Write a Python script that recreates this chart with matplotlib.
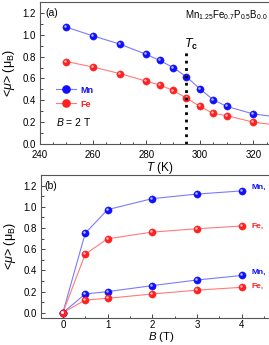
import matplotlib
matplotlib.use("Agg")
import matplotlib.pyplot as plt
from matplotlib.ticker import MultipleLocator
from matplotlib.lines import Line2D
import matplotlib.transforms as mtransforms

plt.rcParams['font.family'] = ['Liberation Sans', 'DejaVu Sans']
plt.rcParams['mathtext.fontset'] = 'custom'
plt.rcParams['mathtext.rm'] = 'Liberation Sans'
plt.rcParams['mathtext.it'] = 'Liberation Sans:italic'
plt.rcParams['mathtext.bf'] = 'Liberation Sans:bold'

# panel (a): moment vs temperature at B = 2 T
temp = [250, 260, 270, 280, 285, 290, 295, 300, 305, 310, 320, 330]
mn_temp = [1.07, 0.99, 0.915, 0.82, 0.765, 0.70, 0.615, 0.505, 0.405, 0.345, 0.275, 0.245]
fe_temp = [0.755, 0.705, 0.645, 0.575, 0.54, 0.49, 0.42, 0.345, 0.28, 0.26, 0.20, 0.17]
tc = 295

# panel (b): moment vs field
field = [0, 0.5, 1, 2, 3, 4]
mn_low_t = [0, 0.75, 0.973, 1.077, 1.12, 1.15]
fe_low_t = [0, 0.553, 0.698, 0.761, 0.793, 0.818]
mn_high_t = [0, 0.177, 0.199, 0.256, 0.309, 0.352]
fe_high_t = [0, 0.12, 0.136, 0.177, 0.213, 0.24]

BLUE = '#1010ff'
RED = '#ff2020'
BLUE_LINE = '#7a7aff'
RED_LINE = '#ff7a7a'


def ball_plot(ax, x, y, line_color, color, ms=5.2):
    ax.plot(x, y, '-', color=line_color, lw=0.8, zorder=2)
    ax.plot(x, y, 'o', ms=ms, mfc=color, mec=color, mew=0.3, zorder=3)
    hl = mtransforms.offset_copy(ax.transData, fig=ax.figure, x=-0.7, y=0.7, units='points')
    ax.plot(x, y, 'o', ms=ms * 0.35, mfc='white', mec='none', alpha=0.7,
            transform=hl, zorder=4)


def style_axis(ax):
    for s in ax.spines.values():
        s.set_color('#555555')
        s.set_linewidth(0.8)
    ax.tick_params(which='both', direction='in', labelsize=7, color='#444444', width=0.7)
    ax.tick_params(which='major', length=3, pad=2.5)
    ax.tick_params(which='minor', length=1.8)
    ax.yaxis.set_major_locator(MultipleLocator(0.2))
    ax.yaxis.set_minor_locator(MultipleLocator(0.1))
    ax.yaxis.set_major_formatter(lambda v, p: f'{v:.1f}')
    ax.set_ylabel(r'<$\mu$> (μ$_\mathregular{B}$)', fontsize=9)
    ax.yaxis.set_label_coords(-0.092, 0.5)


fig = plt.figure(figsize=(2.69, 3.45), dpi=100)
W, H = 269.0, 345.0

# top panel
ax1 = fig.add_axes([39.5 / W, 1 - 144 / H, (280 - 39.5) / W, (144 - 2) / H])
ball_plot(ax1, temp, mn_temp, BLUE_LINE, BLUE)
ball_plot(ax1, temp, fe_temp, RED_LINE, RED)
ax1.plot([tc, tc], [0, 0.85], ':', color='black', lw=2.0, zorder=5)
ax1.text(tc - 1.0, 0.88, r'$\mathbf{\mathit{T}}_\mathregular{c}$', fontsize=9, fontweight='bold')
ax1.set_xlim(240, 330)
ax1.set_ylim(0, 1.3)
ax1.xaxis.set_major_locator(MultipleLocator(20))
ax1.xaxis.set_minor_locator(MultipleLocator(5))
style_axis(ax1)
ax1.tick_params(axis='x', pad=4)
ax1.set_xlabel(r'$\mathit{T}$ (K)', fontsize=8.5, labelpad=0)
ax1.text(242.2, 1.2, '(a)', fontsize=7.5, va='center')
ax1.text(0.605, 0.905, r'Mn$_{1.25}$Fe$_{0.7}$P$_{0.5}$B$_{0.0}$', transform=ax1.transAxes,
         fontsize=7, va='center')
ax1.text(246, 0.2, r'$\mathit{B}$ = 2 T', fontsize=7.5, va='center')

handles = [Line2D([], [], color=BLUE_LINE, lw=0.8, marker='o', ms=5.2, mfc=BLUE, mec=BLUE),
           Line2D([], [], color=RED_LINE, lw=0.8, marker='o', ms=5.2, mfc=RED, mec=RED)]
leg = ax1.legend(handles, ['Mn', 'Fe'], loc='center left', bbox_to_anchor=(0.035, 0.33),
                 frameon=False, fontsize=6.5, handlelength=2.2, handletextpad=0.5,
                 labelspacing=0.55)
for t, c in zip(leg.get_texts(), [BLUE, RED]):
    t.set_color(c)
    t.set_fontweight('bold')

# bottom panel
ax2 = fig.add_axes([40.5 / W, 1 - 317.5 / H, (282 - 40.5) / W, (317.5 - 175) / H])
ball_plot(ax2, field, mn_low_t, BLUE_LINE, BLUE)
ball_plot(ax2, field, fe_low_t, RED_LINE, RED)
ball_plot(ax2, field, mn_high_t, BLUE_LINE, BLUE)
ball_plot(ax2, field, fe_high_t, RED_LINE, RED)
ax2.set_xlim(-0.5, 4.9)
ax2.set_ylim(-0.045, 1.3)
ax2.xaxis.set_major_locator(MultipleLocator(1))
ax2.xaxis.set_minor_locator(MultipleLocator(0.5))
style_axis(ax2)
ax2.tick_params(axis='x', pad=2)
ax2.set_xlabel(r'$\mathit{B}$ (T)', fontsize=8.2, labelpad=-0.5)
ax2.text(-0.42, 1.2, '(b)', fontsize=7.5, va='center')
for yv, lab, c in [(1.18, 'Mn,', BLUE), (0.82, 'Fe,', RED), (0.385, 'Mn,', BLUE), (0.25, 'Fe,', RED)]:
    ax2.text(4.22, yv, lab, color=c, fontsize=6, fontweight='bold', va='center')

fig.savefig('out.png', dpi=100)
